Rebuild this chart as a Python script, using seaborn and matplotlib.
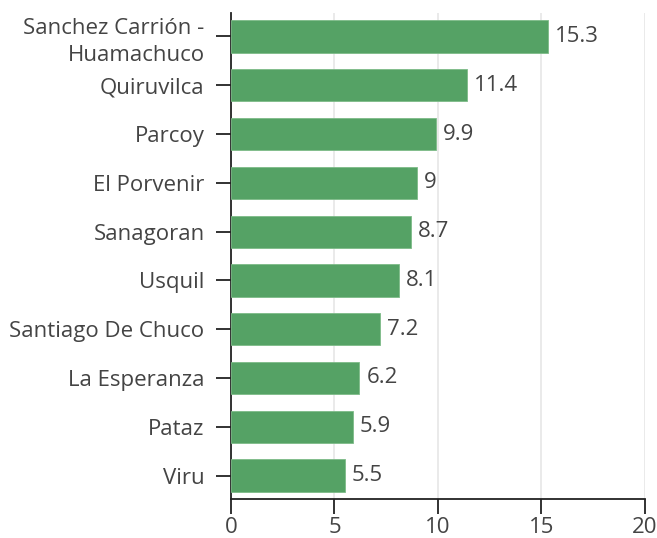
import matplotlib
matplotlib.use("Agg")
import matplotlib.pyplot as plt
import seaborn as sns
import pandas as pd

# data
districts = ["Sanchez Carrión -\nHuamachuco", "Quiruvilca", "Parcoy", "El Porvenir",
             "Sanagoran", "Usquil", "Santiago De Chuco", "La Esperanza", "Pataz", "Viru"]
values = [15.3, 11.4, 9.9, 9, 8.7, 8.1, 7.2, 6.2, 5.9, 5.5]
value_labels = ["15.3", "11.4", "9.9", "9", "8.7", "8.1", "7.2", "6.2", "5.9", "5.5"]
x_ticks = [0, 5, 10, 15, 20]

df = pd.DataFrame({"district": districts, "value": values})

sns.set_style("white")
plt.rcParams["font.family"] = ["Open Sans", "DejaVu Sans"]
text_color = "#444444"
fs = 16

fig = plt.figure(figsize=(6.57, 5.38), dpi=100)
ax = fig.add_axes([0.3516, 0.0725, 0.6301, 0.9033])

sns.barplot(data=df, x="value", y="district", color="#55A265", saturation=1,
            width=0.66, edgecolor="#7dbb88", linewidth=0.6, ax=ax, zorder=3)

for i, (v, lab) in enumerate(zip(values, value_labels)):
    ax.annotate(lab, xy=(v, i), xytext=(5, 0), textcoords="offset points",
                va="center", ha="left", fontsize=fs, color=text_color)

ax.set_xlim(0, 20)
ax.set_ylim(9.48, -0.48)
ax.set_xticks(x_ticks)
ax.set_xticklabels([str(t) for t in x_ticks])
ax.set_xlabel("")
ax.set_ylabel("")
ax.grid(axis="x", color="#e6e6e6", linewidth=1.2, zorder=0)
ax.set_axisbelow(True)

for s in ["top", "right"]:
    ax.spines[s].set_visible(False)
for s in ["left", "bottom"]:
    ax.spines[s].set_color("#222222")
    ax.spines[s].set_linewidth(1.3)

ax.tick_params(axis="both", which="both", direction="out", length=11, width=1.3,
               color="#222222", labelsize=fs, labelcolor=text_color,
               left=True, bottom=True)
ax.tick_params(axis="y", pad=8)
ax.tick_params(axis="x", pad=2)
for t in ax.get_yticklabels():
    t.set_linespacing(1.35)

fig.savefig("out.png", dpi=100)
